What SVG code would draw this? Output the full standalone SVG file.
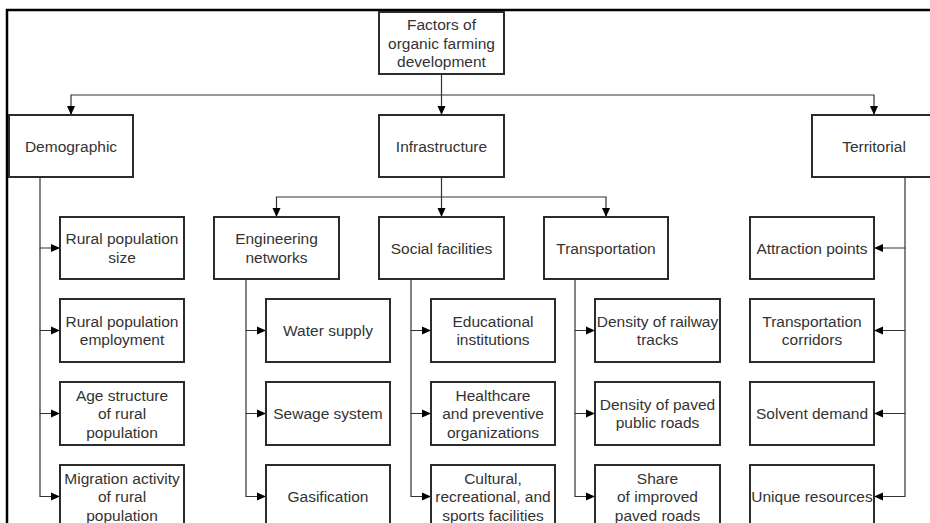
<svg xmlns="http://www.w3.org/2000/svg" width="930" height="523" viewBox="0 0 930 523">
<style>
.box{fill:#fff;stroke:#2b2b2b;stroke-width:2}
.t{font-family:"Liberation Sans",Arial,sans-serif;font-size:15.5px;fill:#333;text-anchor:middle}
.c{fill:none;stroke:#333;stroke-width:1.2}
.frame{fill:none;stroke:#000;stroke-width:2.5}
</style>
<defs>
<marker id="ah" markerUnits="userSpaceOnUse" markerWidth="10" markerHeight="9" refX="9" refY="4.5" orient="auto">
<path d="M0,0.5 L9,4.5 L0,8.5 z" fill="#000"/>
</marker>
</defs>
<rect width="930" height="523" fill="#fff"/>
<path class="frame" d="M7,523 V10 H930"/>

<g id="connectors" class="c" marker-end="url(#ah)">
<path d="M441.5,74 V115"/>
<path d="M441.5,95 H71 V115"/>
<path d="M441.5,95 H874 V115"/>
<path d="M40,177 V248 H60"/>
<path d="M40,248 V330.5 H60"/>
<path d="M40,330.5 V413.5 H60"/>
<path d="M40,413.5 V496.5 H60"/>
<path d="M441.5,177 V217"/>
<path d="M441.5,197 H276.5 V217"/>
<path d="M441.5,197 H606 V217"/>
<path d="M246,279 V330.5 H266"/>
<path d="M246,330.5 V413.5 H266"/>
<path d="M246,413.5 V496.5 H266"/>
<path d="M411,279 V330.5 H431"/>
<path d="M411,330.5 V413.5 H431"/>
<path d="M411,413.5 V496.5 H431"/>
<path d="M575,279 V330.5 H595"/>
<path d="M575,330.5 V413.5 H595"/>
<path d="M575,413.5 V496.5 H595"/>
<path d="M905,177 V248 H874"/>
<path d="M905,248 V330.5 H874"/>
<path d="M905,330.5 V413.5 H874"/>
<path d="M905,413.5 V496.5 H874"/>
</g>

<g id="root"><rect class="box" x="379" y="12" width="125" height="62"/>
<text class="t" x="441.5" y="30">Factors of</text><text class="t" x="441.5" y="48.5">organic farming</text><text class="t" x="441.5" y="67">development</text></g>

<g id="demographic"><rect class="box" x="9" y="115" width="124" height="62"/><text class="t" x="71" y="151.5">Demographic</text></g>
<g id="infrastructure"><rect class="box" x="379" y="115" width="125" height="62"/><text class="t" x="441.5" y="151.5">Infrastructure</text></g>
<g id="territorial"><rect class="box" x="812" y="115" width="124" height="62"/><text class="t" x="874" y="151.5">Territorial</text></g>

<g id="engineering"><rect class="box" x="214" y="217" width="125" height="62"/><text class="t" x="276.5" y="244">Engineering</text><text class="t" x="276.5" y="262.5">networks</text></g>
<g id="social"><rect class="box" x="379" y="217" width="125" height="62"/><text class="t" x="441.5" y="253.5">Social facilities</text></g>
<g id="transportation"><rect class="box" x="544" y="217" width="124" height="62"/><text class="t" x="606" y="253.5">Transportation</text></g>

<g id="d1"><rect class="box" x="60" y="217" width="124" height="62"/><text class="t" x="122" y="244">Rural population</text><text class="t" x="122" y="262.5">size</text></g>
<g id="d2"><rect class="box" x="60" y="299" width="124" height="63"/><text class="t" x="122" y="326.5">Rural population</text><text class="t" x="122" y="345">employment</text></g>
<g id="d3"><rect class="box" x="60" y="382" width="124" height="63"/><text class="t" x="122" y="400.5">Age structure</text><text class="t" x="122" y="419">of rural</text><text class="t" x="122" y="437.5">population</text></g>
<g id="d4"><rect class="box" x="60" y="465" width="124" height="63"/><text class="t" x="122" y="483.5">Migration activity</text><text class="t" x="122" y="502">of rural</text><text class="t" x="122" y="520.5">population</text></g>

<g id="e1"><rect class="box" x="266" y="299" width="124" height="63"/><text class="t" x="328" y="336">Water supply</text></g>
<g id="e2"><rect class="box" x="266" y="382" width="124" height="63"/><text class="t" x="328" y="419">Sewage system</text></g>
<g id="e3"><rect class="box" x="266" y="465" width="124" height="63"/><text class="t" x="328" y="502">Gasification</text></g>

<g id="s1"><rect class="box" x="431" y="299" width="124" height="63"/><text class="t" x="493" y="326.5">Educational</text><text class="t" x="493" y="345">institutions</text></g>
<g id="s2"><rect class="box" x="431" y="382" width="124" height="63"/><text class="t" x="493" y="400.5">Healthcare</text><text class="t" x="493" y="419">and preventive</text><text class="t" x="493" y="437.5">organizations</text></g>
<g id="s3"><rect class="box" x="431" y="465" width="124" height="63"/><text class="t" x="493" y="483.5">Cultural,</text><text class="t" x="493" y="502">recreational, and</text><text class="t" x="493" y="520.5">sports facilities</text></g>

<g id="tr1"><rect class="box" x="595" y="299" width="125" height="63"/><text class="t" x="657.5" y="326.5">Density of railway</text><text class="t" x="657.5" y="345">tracks</text></g>
<g id="tr2"><rect class="box" x="595" y="382" width="125" height="63"/><text class="t" x="657.5" y="409.5">Density of paved</text><text class="t" x="657.5" y="428">public roads</text></g>
<g id="tr3"><rect class="box" x="595" y="465" width="125" height="63"/><text class="t" x="657.5" y="483.5">Share</text><text class="t" x="657.5" y="502">of improved</text><text class="t" x="657.5" y="520.5">paved roads</text></g>

<g id="te1"><rect class="box" x="750" y="217" width="124" height="62"/><text class="t" x="812" y="253.5">Attraction points</text></g>
<g id="te2"><rect class="box" x="750" y="299" width="124" height="63"/><text class="t" x="812" y="326.5">Transportation</text><text class="t" x="812" y="345">corridors</text></g>
<g id="te3"><rect class="box" x="750" y="382" width="124" height="63"/><text class="t" x="812" y="419">Solvent demand</text></g>
<g id="te4"><rect class="box" x="750" y="465" width="124" height="63"/><text class="t" x="812" y="502">Unique resources</text></g>
</svg>
